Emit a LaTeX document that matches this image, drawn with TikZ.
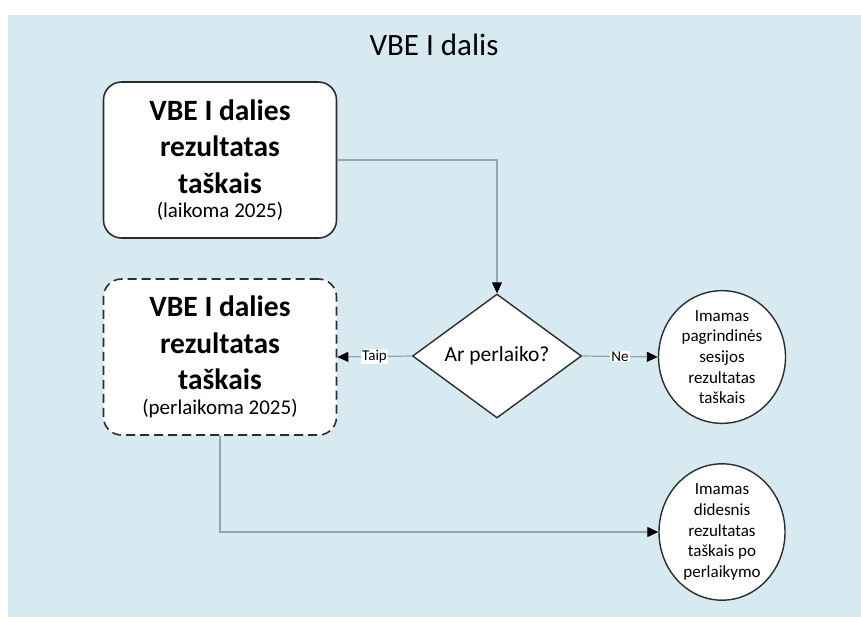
\documentclass[tikz,border=0pt]{standalone}
\usepackage{fontspec}
\setmainfont{Carlito}
\usetikzlibrary{shapes.geometric,arrows.meta}
\definecolor{bgblue}{RGB}{216,234,241}
\definecolor{linegray}{RGB}{146,166,178}
\definecolor{edgegray}{RGB}{45,45,45}
\tikzset{
    result/.style={draw=edgegray,line width=1.6pt,fill=white,rounded corners=18pt,
        minimum width=233pt,minimum height=156pt,align=center,inner sep=0pt,
        font=\fontsize{29.5}{36.5}\selectfont\bfseries},
    retake/.style={result,dash pattern=on 9pt off 5pt},
    decision/.style={draw=edgegray,line width=1.4pt,fill=white,diamond,inner sep=0pt,
        minimum width=169pt,minimum height=124pt,font=\fontsize{21.5}{25}\selectfont},
    outcome/.style={draw=edgegray,line width=1.4pt,fill=white,ellipse,inner sep=0pt,
        align=center,font=\fontsize{17}{20.7}\selectfont},
    flow/.style={draw=linegray,line width=1.2pt,
        -{Triangle[length=11pt,width=10pt,color=black,fill=black]}},
    answer/.style={fill=white,inner sep=1pt,font=\fontsize{15}{17}\selectfont},
}
\newcommand{\note}[1]{{\fontsize{21}{24}\selectfont\mdseries #1}}
\begin{document}
\begin{tikzpicture}[x=1pt,y=-1pt]
    \useasboundingbox (0,0) rectangle (861,619);
    \fill[bgblue] (8,15) rectangle (861,617);
    \node[font=\fontsize{31}{36}\selectfont] (title) at (434,45) {VBE I dalis};
    % rezultatu langeliai
    \node[result] (main) at (220,160)
        {VBE I dalies\\rezultatas\\taškais\\[-12pt]\note{(laikoma 2025)}};
    \node[retake] (again) at (220,357)
        {VBE I dalies\\rezultatas\\taškais\\[-12pt]\note{(perlaikoma 2025)}};
    \node[decision] (ask) at (497,356) {Ar perlaiko?};
    \node[outcome,minimum width=127pt,minimum height=127pt] (keep) at (722,357)
        {Imamas\\pagrindinės\\sesijos\\rezultatas\\taškais};
    \node[outcome,minimum width=126pt,minimum height=132pt] (best) at (722,532)
        {Imamas\\didesnis\\rezultatas\\taškais po\\perlaikymo};
    % jungtys
    \draw[flow] (main.east) -| (ask.north);
    \draw[flow] (ask.west) -- node[answer] {Taip} (again.east);
    \draw[flow] (ask.east) -- node[answer] {Ne} (keep.west);
    \draw[flow] (again.south) |- (best.west);
\end{tikzpicture}
\end{document}
